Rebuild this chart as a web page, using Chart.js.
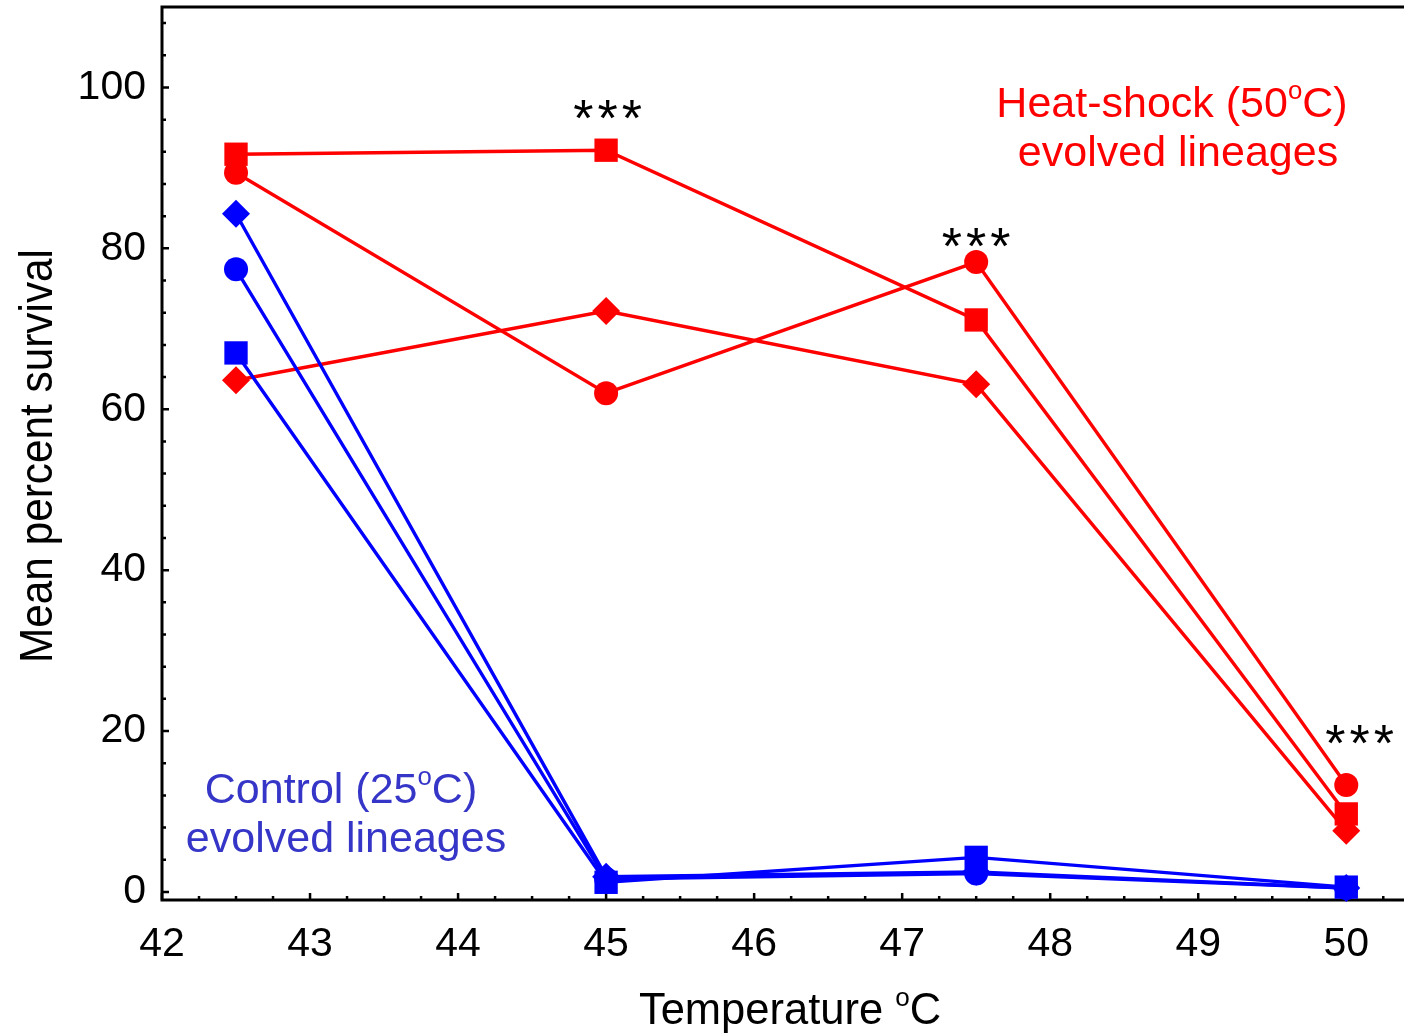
<!DOCTYPE html>
<html>
<head>
<meta charset="utf-8">
<title>Survival after heat shock</title>
<script src="https://cdn.jsdelivr.net/npm/chart.js@4.4.1/dist/chart.umd.min.js"></script>
<style>
  html, body { margin: 0; padding: 0; background: #fff; overflow: hidden; }
  #wrap { position: relative; width: 1404px; height: 1034px; overflow: hidden; }
  #chart { display: block; }
</style>
</head>
<body>
<div id="wrap"><canvas id="chart"></canvas></div>
<script>
// assay temperatures (deg C)
const temperatures = [42.5, 45, 47.5, 50];

// heat-shock (50C) evolved lineages, mean % survival
const heatSquare  = [91.7, 92.2, 71.1, 9.7];
const heatCircle  = [89.4, 62.0, 78.3, 13.3];
const heatDiamond = [63.6, 72.2, 63.1, 7.6];

// control (25C) evolved lineages
const ctrlDiamond = [84.3, 1.9, 2.5, 0.5];
const ctrlCircle  = [77.4, 1.6, 2.3, 0.5];
const ctrlSquare  = [67.0, 1.2, 4.3, 0.6];

const xTicks = [42, 43, 44, 45, 46, 47, 48, 49, 50];
const yTicks = [0, 20, 40, 60, 80, 100];

// significance marks: [temperature, survival level]
const starMarks = [[45.01, 97.3], [47.5, 81.3], [50.09, 19.6]];

const RED = '#ff0000';
const BLUE = '#0000ff';
const FONT = '"Liberation Sans", Arial, Helvetica, sans-serif';

function series(values, color, shape) {
  const radius = shape === 'rect' ? 16.5 : shape === 'rectRot' ? 14 : 12;
  return {
    data: values.map((v, i) => ({ x: temperatures[i], y: v })),
    borderColor: color,
    backgroundColor: color,
    borderWidth: 3.4,
    pointStyle: shape,
    pointRadius: radius,
    pointHoverRadius: radius,
    pointBorderWidth: 0,
    tension: 0,
    clip: false
  };
}

// drop the label overhang chart.js reserves, the plot box is fixed
function fixBox(s, w, h) {
  if (w) s.width = w;
  if (h) s.height = h;
  s.paddingTop = 0;
  s.paddingBottom = 0;
  s.paddingLeft = 0;
  s.paddingRight = 0;
}

// text with a raised small "o" for degrees
function drawParts(ctx, parts, cx, baseline, size, color) {
  const small = size * 0.6;
  let total = 0;
  for (const [t, sup] of parts) {
    ctx.font = (sup ? small : size) + 'px ' + FONT;
    total += ctx.measureText(t).width;
  }
  let x = cx - total / 2;
  ctx.fillStyle = color;
  ctx.textAlign = 'left';
  ctx.textBaseline = 'alphabetic';
  for (const [t, sup] of parts) {
    ctx.font = (sup ? small : size) + 'px ' + FONT;
    ctx.fillText(t, x, sup ? baseline - size * 0.42 : baseline);
    x += ctx.measureText(t).width;
  }
}

const decorations = {
  id: 'decorations',
  beforeDatasetsDraw(chart) {
    const { ctx, chartArea: a, scales: { x, y } } = chart;
    ctx.save();
    ctx.strokeStyle = '#000';
    ctx.lineCap = 'square';
    ctx.lineWidth = 3;
    ctx.beginPath();
    ctx.moveTo(a.right + 2, a.top);
    ctx.lineTo(a.left, a.top);
    ctx.lineTo(a.left, a.bottom);
    ctx.lineTo(a.right + 2, a.bottom);
    ctx.stroke();

    // inward ticks, minor every 0.25 on x and 4 on y
    ctx.lineWidth = 2.5;
    ctx.lineCap = 'butt';
    ctx.beginPath();
    for (let i = 0; i <= 33; i++) {
      const v = 42 + i * 0.25;
      const px = x.getPixelForValue(v);
      if (px > a.right) break;
      const len = i % 4 === 0 ? 7 : 4;
      ctx.moveTo(px, a.bottom);
      ctx.lineTo(px, a.bottom - len);
    }
    for (let v = 0; v <= 108; v += 4) {
      const py = y.getPixelForValue(v);
      const len = v % 20 === 0 ? 7 : 4;
      ctx.moveTo(a.left, py);
      ctx.lineTo(a.left + len, py);
    }
    ctx.stroke();
    ctx.restore();
  },
  afterDatasetsDraw(chart) {
    const { ctx, scales: { x, y } } = chart;
    ctx.save();

    // significance asterisks
    ctx.font = '52px ' + FONT;
    ctx.letterSpacing = '4px';
    const m = ctx.measureText('***');
    const mid = (m.actualBoundingBoxAscent - m.actualBoundingBoxDescent) / 2;
    ctx.fillStyle = '#000';
    ctx.textAlign = 'center';
    ctx.textBaseline = 'alphabetic';
    for (const [t, v] of starMarks) {
      ctx.fillText('***', x.getPixelForValue(t) + 2, y.getPixelForValue(v) + mid);
    }
    ctx.letterSpacing = '0px';

    // group labels
    drawParts(ctx, [['Heat-shock (50', false], ['o', true], ['C)', false]], 1172, 117, 43, RED);
    drawParts(ctx, [['evolved lineages', false]], 1178, 166, 43, RED);
    drawParts(ctx, [['Control (25', false], ['o', true], ['C)', false]], 341, 803, 43, '#3535c8');
    drawParts(ctx, [['evolved lineages', false]], 346, 852, 43, '#3535c8');

    // axis titles
    drawParts(ctx, [['Temperature ', false], ['o', true], ['C', false]], 790, 1024, 43.5, '#000');

    ctx.translate(52, 456);
    ctx.rotate(-Math.PI / 2);
    ctx.scale(0.92, 1);
    ctx.font = '46px ' + FONT;
    ctx.fillStyle = '#000';
    ctx.textAlign = 'center';
    ctx.fillText('Mean percent survival', 0, 0);
    ctx.restore();
  }
};

new Chart(document.getElementById('chart'), {
  type: 'line',
  data: {
    datasets: [
      series(ctrlDiamond, BLUE, 'rectRot'),
      series(ctrlCircle, BLUE, 'circle'),
      series(ctrlSquare, BLUE, 'rect'),
      series(heatDiamond, RED, 'rectRot'),
      series(heatCircle, RED, 'circle'),
      series(heatSquare, RED, 'rect')
    ]
  },
  options: {
    responsive: true,
    maintainAspectRatio: false,
    animation: false,
    layout: { autoPadding: false, padding: { top: 7, right: 0, left: 0, bottom: 0 } },
    plugins: { legend: { display: false }, tooltip: { enabled: false } },
    scales: {
      x: {
        type: 'linear',
        min: 42,
        max: 50.39,
        afterBuildTicks: s => { s.ticks = xTicks.map(v => ({ value: v })); },
        afterFit: s => fixBox(s, 0, 134),
        grid: { display: false, drawTicks: false },
        border: { display: false },
        ticks: { font: { family: FONT, size: 41 }, color: '#000', padding: 20, maxRotation: 0 }
      },
      y: {
        min: -1,
        max: 110,
        afterBuildTicks: s => { s.ticks = yTicks.map(v => ({ value: v })); },
        afterFit: s => fixBox(s, 162, 0),
        grid: { display: false, drawTicks: false },
        border: { display: false },
        ticks: { font: { family: FONT, size: 41 }, color: '#000', padding: 16 }
      }
    }
  },
  plugins: [decorations]
});
</script>
</body>
</html>
